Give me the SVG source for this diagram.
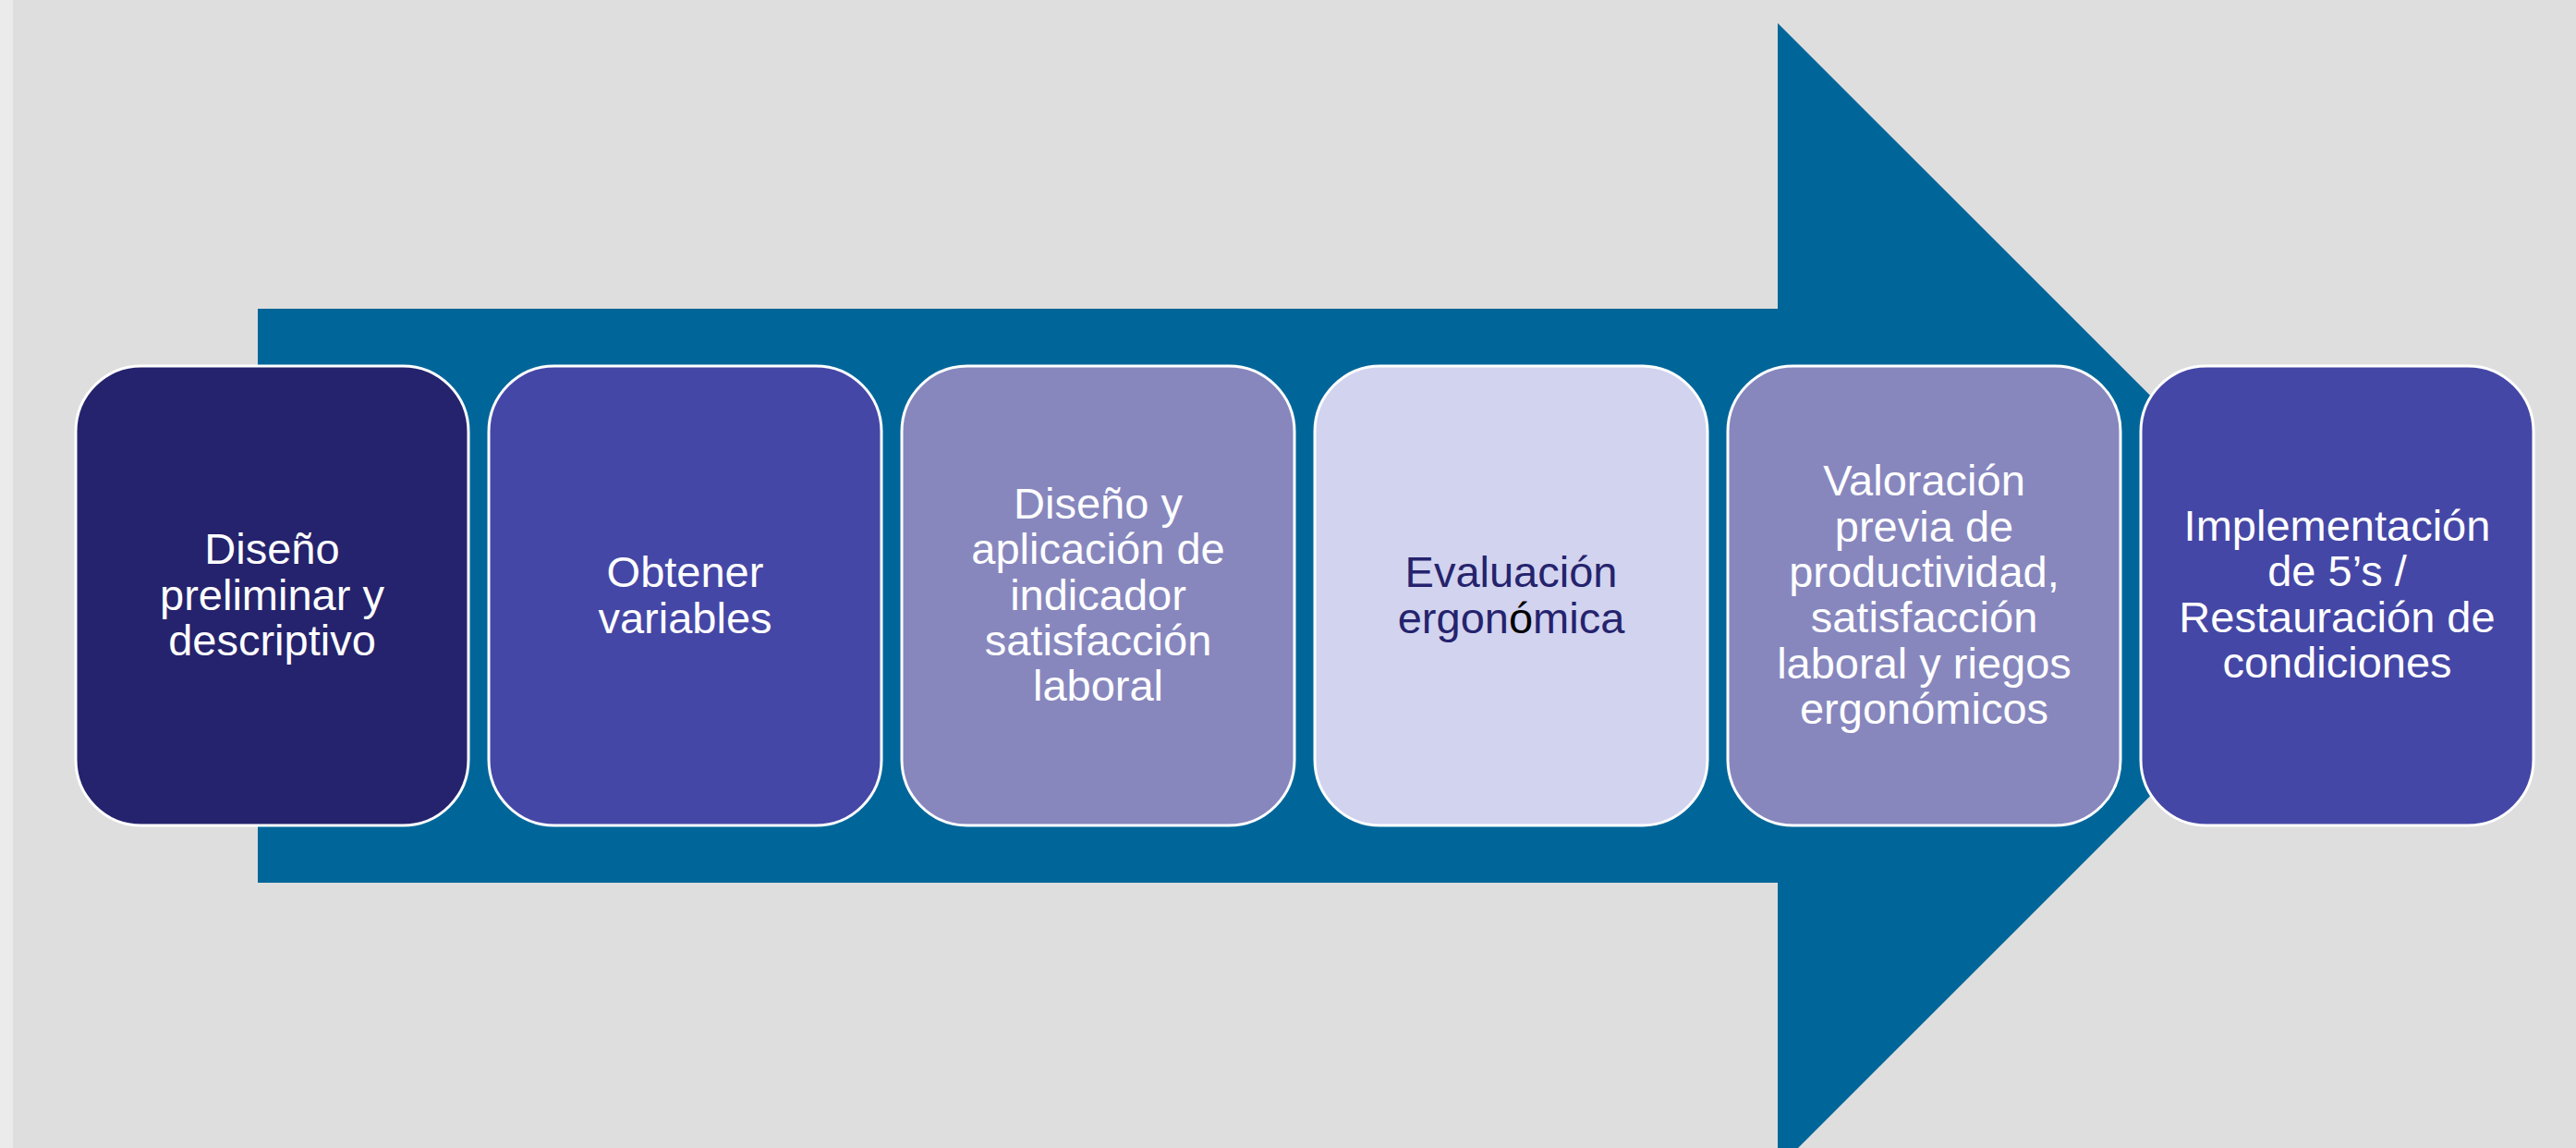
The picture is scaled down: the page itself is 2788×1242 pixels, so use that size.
<svg xmlns="http://www.w3.org/2000/svg" width="2788" height="1242" viewBox="0 0 2788 1242">
<style>
.box{stroke:#FFFFFF;stroke-width:3}
.t{font-family:"Liberation Sans",Arial,sans-serif;font-size:47px;text-anchor:middle;fill:#FFFFFF}
.d{fill:#25236D}
</style>
<rect x="0" y="0" width="2788" height="1242" fill="#DEDEDE"/>
<rect x="0" y="0" width="14" height="1242" fill="#EBEBEB"/>
<g id="connectors">
<polygon points="279,334 1924,334 1924,25 2544,644.5 1924,1264 1924,955 279,955" fill="#006699"/>
</g>
<g id="node1">
<rect class="box" x="82" y="396" width="425" height="497" rx="71" ry="71" fill="#25236D"/>
<text class="t"><tspan x="294.5" y="610">Diseño</tspan><tspan x="294.5" y="659.5">preliminar y</tspan><tspan x="294.5" y="709">descriptivo</tspan></text>
</g>
<g id="node2">
<rect class="box" x="529" y="396" width="425" height="497" rx="71" ry="71" fill="#4547A6"/>
<text class="t"><tspan x="741.5" y="635">Obtener</tspan><tspan x="741.5" y="684.5">variables</tspan></text>
</g>
<g id="node3">
<rect class="box" x="976" y="396" width="425" height="497" rx="71" ry="71" fill="#8787BE"/>
<text class="t"><tspan x="1188.5" y="561">Diseño y</tspan><tspan x="1188.5" y="610">aplicación de</tspan><tspan x="1188.5" y="659.5">indicador</tspan><tspan x="1188.5" y="709">satisfacción</tspan><tspan x="1188.5" y="758">laboral</tspan></text>
</g>
<g id="node4">
<rect class="box" x="1423" y="396" width="425" height="497" rx="71" ry="71" fill="#D2D3EF"/>
<text class="t d"><tspan x="1635.5" y="635">Evaluación</tspan><tspan x="1635.5" y="684.5">ergon<tspan fill="#000000">ó</tspan>mica</tspan></text>
</g>
<g id="node5">
<rect class="box" x="1870" y="396" width="425" height="497" rx="71" ry="71" fill="#8787BE"/>
<text class="t"><tspan x="2082.5" y="536">Valoración</tspan><tspan x="2082.5" y="585.5">previa de</tspan><tspan x="2082.5" y="635">productividad,</tspan><tspan x="2082.5" y="684">satisfacción</tspan><tspan x="2082.5" y="733.5">laboral y riegos</tspan><tspan x="2082.5" y="783">ergonómicos</tspan></text>
</g>
<g id="node6">
<rect class="box" x="2317" y="396" width="425" height="497" rx="71" ry="71" fill="#4547A6"/>
<text class="t"><tspan x="2529.5" y="585">Implementación</tspan><tspan x="2529.5" y="634">de 5’s /</tspan><tspan x="2529.5" y="684">Restauración de</tspan><tspan x="2529.5" y="733">condiciones</tspan></text>
</g>
</svg>
